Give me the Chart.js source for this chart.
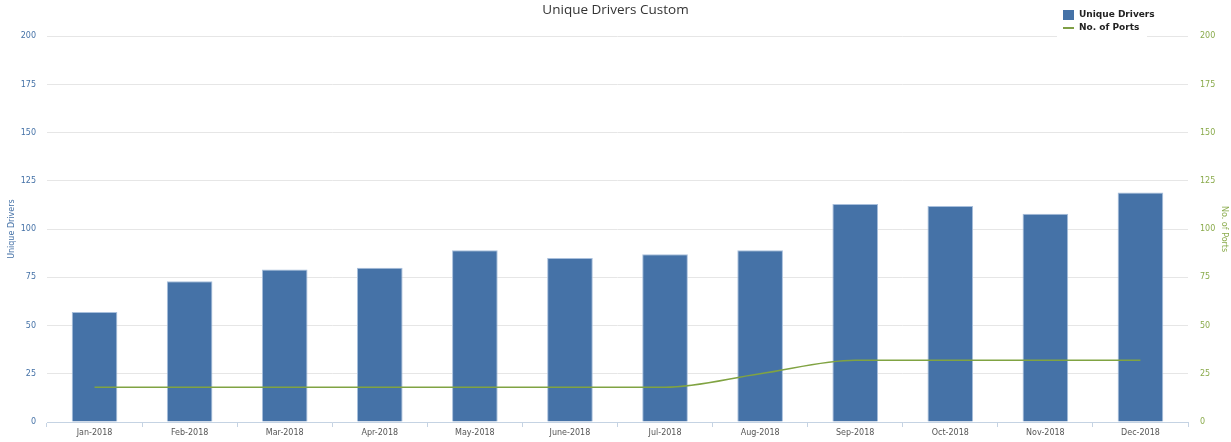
<!DOCTYPE html>
<html>
<head>
<meta charset="utf-8">
<script src="https://cdn.jsdelivr.net/npm/chart.js@4"></script>
<style>
    html, body { margin: 0; padding: 0; background: #fff; }
    #wrap { position: relative; width: 1231px; height: 442px; }
    #legend {
        position: absolute; left: 1057px; top: 4px; width: 90px; height: 34px;
        background: #fff; font: bold 9px "DejaVu Sans", sans-serif; color: #222;
        white-space: nowrap;
    }
    #legend div { position: relative; height: 13px; line-height: 13px; padding-left: 22px; }
    #legend .box { position: absolute; left: 6px; top: 2px; width: 11px; height: 10px; background: #4572a7; }
    #legend .ln { position: absolute; left: 6px; top: 6px; width: 11px; height: 2px; background: #7f9f45; }
</style>
</head>
<body>
<div id="wrap">
    <canvas id="chart" width="1231" height="442"></canvas>
    <div id="legend">
        <div style="margin-top:4px"><span class="box"></span>Unique Drivers</div>
        <div><span class="ln"></span>No. of Ports</div>
    </div>
</div>
<script>
// ข้อมูลกราฟ
const months = ['Jan-2018', 'Feb-2018', 'Mar-2018', 'Apr-2018', 'May-2018', 'June-2018',
    'Jul-2018', 'Aug-2018', 'Sep-2018', 'Oct-2018', 'Nov-2018', 'Dec-2018'];
const uniqueDrivers = [57, 73, 79, 80, 89, 85, 87, 89, 113, 112, 108, 119];
const noOfPorts = [18, 18, 18, 18, 18, 18, 18, 25, 32, 32, 32, 32];
const axisTicks = [0, 25, 50, 75, 100, 125, 150, 175, 200];

const blue = '#4572a7';
const green = '#80a342';

new Chart(document.getElementById('chart'), {
    type: 'bar',
    data: {
        labels: months,
        datasets: [{
            type: 'line',
            label: 'No. of Ports',
            data: noOfPorts,
            yAxisID: 'y1',
            borderColor: green,
            backgroundColor: green,
            borderWidth: 1.5,
            pointRadius: 0,
            cubicInterpolationMode: 'monotone',
            order: 0
        }, {
            label: 'Unique Drivers',
            data: uniqueDrivers,
            yAxisID: 'y',
            backgroundColor: blue,
            borderColor: '#a8bfdc',
            borderWidth: { left: 1, right: 1, top: 1, bottom: 0 },
            categoryPercentage: 1,
            barPercentage: 0.48,
            order: 1
        }]
    },
    options: {
        responsive: false,
        animation: false,
        layout: { padding: 0 },
        plugins: {
            legend: { display: false },
            tooltip: { enabled: false },
            title: {
                display: true,
                text: 'Unique Drivers Custom',
                color: '#333',
                font: { family: 'Open Sans', size: 13.5, weight: 'normal' },
                padding: { top: 2, bottom: 18 }
            }
        },
        scales: {
            x: {
                offset: true,
                grid: { offset: true, drawOnChartArea: false, tickLength: 5, color: '#c5d3e3' },
                border: { color: '#c5d3e3' },
                ticks: { color: '#555', font: { family: 'DejaVu Sans', size: 8 }, padding: 1, maxRotation: 0 },
                afterFit: function(scale) { scale.height = 20; }
            },
            y: {
                position: 'left',
                min: 0, max: 200,
                afterBuildTicks: function(scale) { scale.ticks = axisTicks.map(v => ({ value: v })); },
                grid: { color: '#e6e6e6', tickLength: 0, drawTicks: false },
                border: { display: false },
                ticks: { color: '#4572a7', font: { family: 'DejaVu Sans', size: 8 }, padding: 11 },
                title: {
                    display: true, text: 'Unique Drivers', color: '#4572a7',
                    font: { family: 'DejaVu Sans', size: 8 }, padding: { top: 7, bottom: 0 }
                },
                afterFit: function(scale) { scale.width = 47; }
            },
            y1: {
                position: 'right',
                min: 0, max: 200,
                afterBuildTicks: function(scale) { scale.ticks = axisTicks.map(v => ({ value: v })); },
                grid: { drawOnChartArea: false, drawTicks: false },
                border: { display: false },
                ticks: { color: '#8aab4c', font: { family: 'DejaVu Sans', size: 8 }, padding: 12 },
                title: {
                    display: true, text: 'No. of Ports', color: '#8aab4c',
                    font: { family: 'DejaVu Sans', size: 8 }, padding: { top: 2, bottom: 0 }
                },
                afterFit: function(scale) { scale.width = 43; }
            }
        }
    }
});
</script>
</body>
</html>
